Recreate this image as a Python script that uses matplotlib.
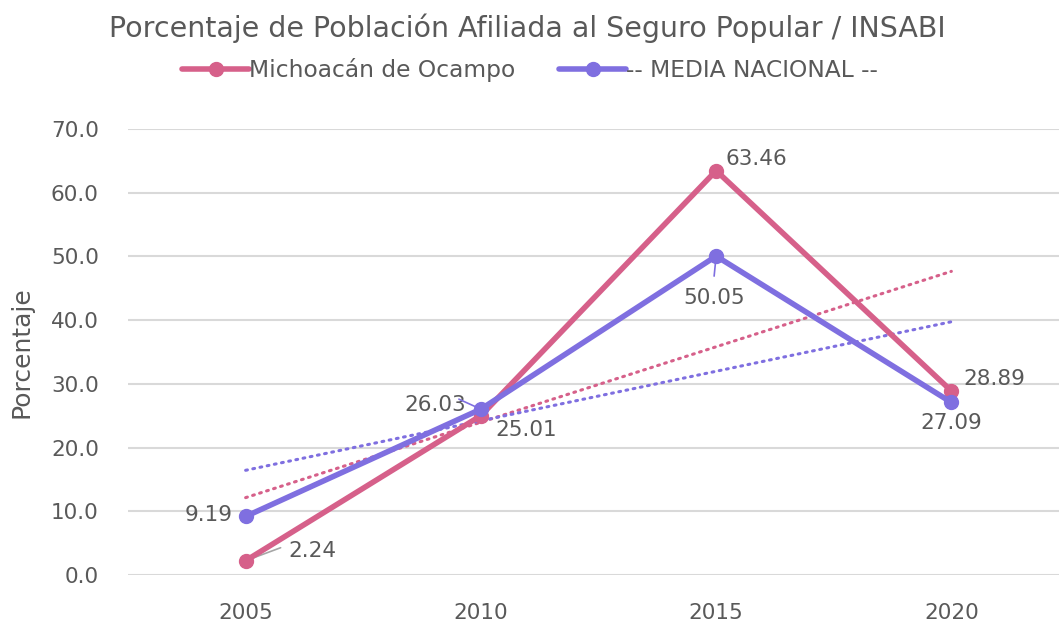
import matplotlib.pyplot as plt
import numpy as np

years = ["2005", "2010", "2015", "2020"]
michoacan = [2.24, 25.01, 63.46, 28.89]
nacional = [9.19, 26.03, 50.05, 27.09]
labels_michoacan = ["2.24", "25.01", "63.46", "28.89"]
labels_nacional = ["9.19", "26.03", "50.05", "27.09"]

pink = "#D6608A"
purple = "#7F6FE0"
gray = "#595959"

plt.rcParams['font.family'] = ['DejaVu Sans']

fig = plt.figure(figsize=(10.59, 6.26), dpi=100)
ax = fig.add_axes([128 / 1059, 51 / 626, 941 / 1059, 446 / 626])

x = np.arange(1, len(years) + 1)

# trend lines (linear fit)
for vals, col in [(michoacan, pink), (nacional, purple)]:
    m, b = np.polyfit(x, vals, 1)
    ax.plot(x, m * x + b, color=col, lw=2.2, ls=(0, (0.6, 1.8)),
            dash_capstyle='round', zorder=2)

ax.plot(x, michoacan, color=pink, lw=4, marker='o', ms=10,
        solid_capstyle='round', label="Michoacán de Ocampo", zorder=4)
ax.plot(x, nacional, color=purple, lw=4, marker='o', ms=10,
        solid_capstyle='round', label="-- MEDIA NACIONAL --", zorder=5)

fs = 15.5
# labels for Michoacán
offs_m = [(67, 10), (45, -14), (40, 12), (43, 12)]
for xi, v, t, o in zip(x, michoacan, labels_michoacan, offs_m):
    ax.annotate(t, (xi, v), xytext=o, textcoords='offset pixels',
                ha='center', va='center', fontsize=fs, color=gray)
ax.annotate("", (x[0], michoacan[0]), xytext=(35, 13), textcoords='offset pixels',
            arrowprops=dict(arrowstyle='-', color='#A6A6A6', lw=1.2,
                            shrinkA=0, shrinkB=0))

offs_n = [(-37, 1), (-46, 4), (-2, -42), (0, -21)]
for xi, v, t, o in zip(x, nacional, labels_nacional, offs_n):
    ax.annotate(t, (xi, v), xytext=o, textcoords='offset pixels',
                ha='center', va='center', fontsize=fs, color=gray)
ax.annotate("", (x[1], nacional[1]), xytext=(-22, 10), textcoords='offset pixels',
            arrowprops=dict(arrowstyle='-', color=purple, lw=1.2,
                            shrinkA=0, shrinkB=0))
ax.annotate("", (x[2], nacional[2]), xytext=(-2, -20), textcoords='offset pixels',
            arrowprops=dict(arrowstyle='-', color=purple, lw=1.2,
                            shrinkA=0, shrinkB=0))

ax.set_xlim(0.5, 4.5)
ax.set_ylim(0, 70)
ax.set_yticks(np.arange(0, 71, 10))
ax.set_yticklabels([f"{v:.1f}" for v in np.arange(0, 71, 10)])
ax.set_xticks(x)
ax.set_xticklabels(years)
ax.tick_params(length=0, labelsize=fs, colors=gray)
ax.tick_params(axis='x', pad=20)
ax.tick_params(axis='y', pad=21)
ax.grid(axis='y', color='#D9D9D9', lw=1.5)
ax.set_axisbelow(True)
for s in ax.spines.values():
    s.set_visible(False)

ax.set_ylabel("Porcentaje", fontsize=18, color=gray)
ax.yaxis.set_label_coords(-95 / 941, 0.5)

fig.text(527 / 1059, 1 - 28 / 626, "Porcentaje de Población Afiliada al Seguro Popular / INSABI",
         ha='center', va='center', fontsize=20.5, color=gray)
leg = fig.legend(loc='center', bbox_to_anchor=(530 / 1059, 1 - 70 / 626), ncol=2,
                 frameon=False, fontsize=16.8, handlelength=2.9, handletextpad=0.0,
                 columnspacing=1.85)
for t in leg.get_texts():
    t.set_color(gray)

fig.savefig("out.png", dpi=100)
